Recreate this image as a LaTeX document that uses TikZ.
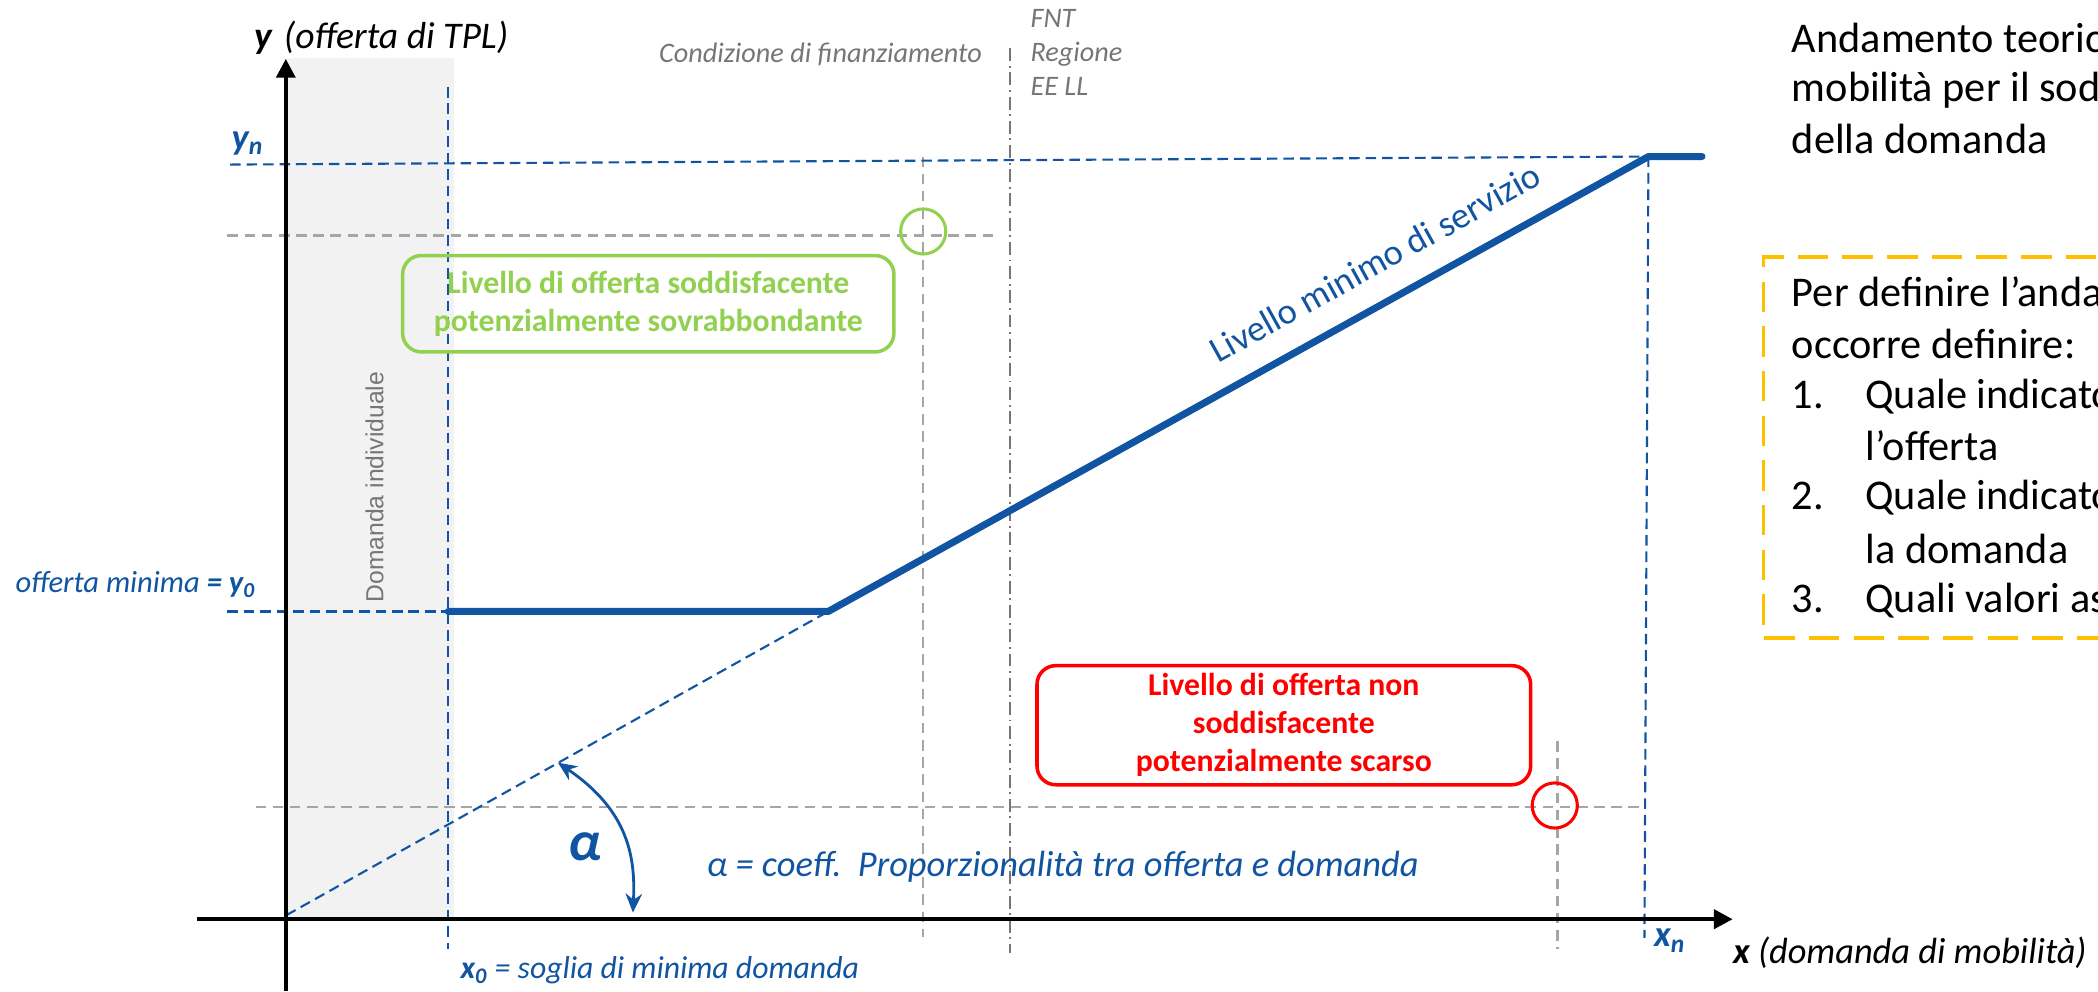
\documentclass[tikz,border=0pt]{standalone}
\usepackage{fontspec}
\setmainfont{Carlito}
\newfontfamily\arialfont{Liberation Sans}
\usetikzlibrary{arrows.meta}
\definecolor{tplblue}{RGB}{16,84,162}
\definecolor{okgreen}{RGB}{146,208,80}
\definecolor{lowred}{RGB}{255,0,0}
\definecolor{noteyellow}{RGB}{255,192,0}
\definecolor{bandgray}{RGB}{242,242,242}
\definecolor{guidegray}{RGB}{166,166,166}
\definecolor{notegray}{RGB}{118,118,118}

\begin{document}
\begin{tikzpicture}[x=0.02cm,y=0.02cm,
  axisline/.style={line width=1.8pt,-{Triangle[length=8pt,width=8pt]}},
  bluedash/.style={draw=tplblue,line width=0.9pt,dash pattern=on 4.5pt off 2.5pt},
  graydash/.style={draw=guidegray,line width=0.9pt,dash pattern=on 4.5pt off 2.8pt},
  dashdotgray/.style={draw=notegray,line width=0.8pt,dash pattern=on 5.5pt off 2pt on 0.8pt off 2pt},
  levelcurve/.style={draw=tplblue,line width=3pt,line cap=round,line join=round},
  levelbox/.style={rounded corners=8pt,line width=1.5pt,align=center,
    font=\bfseries\fontsize{13.5}{16.2}\selectfont},
  bluelabel/.style={text=tplblue,font=\itshape\fontsize{13.5}{16}\selectfont},
  notetext/.style={anchor=base west,font=\fontsize{18}{21.6}\selectfont}]
\useasboundingbox (0,0) rectangle (1568,741);
\clip (0,0) rectangle (1568,741);

% banda della domanda individuale
\fill[bandgray] (213,54) rectangle (339,698);
\node[rotate=90,text=notegray,font=\arialfont\fontsize{10.5}{12}\selectfont] (band) at (280,377) {Domanda individuale};

% linee guida
\draw[graydash] (170,565) -- (743,565);
\draw[graydash] (690,624) -- (690,41);
\draw[graydash] (191,138) -- (1229,138);
\draw[graydash] (1164,187) -- (1164,32);
\draw[dashdotgray] (755,705) -- (755,29);

\coordinate (O) at (214,57);
\coordinate (y0) at (335,284);
\coordinate (knee) at (619,284);
\coordinate (top) at (1232,624);
\coordinate (tail) at (1272,624);

\draw[bluedash] (172,618) -- (top);
\draw[bluedash] (170,284) -- (y0);
\draw[bluedash] (335,676) -- (335,32);
\draw[bluedash] (top) -- (1229,40);
\draw[bluedash] (O) -- (knee);

% assi
\draw[axisline] (213.6,0) -- (213.6,697);
\draw[axisline] (147,54) -- (1295,54);

% livello minimo
\draw[levelcurve] (y0) -- (knee) -- (top) -- (tail);
\path (knee) -- (top) node[pos=0.69,sloped,above=8pt,text=tplblue,font=\fontsize{15.5}{18}\selectfont] (minlabel) {Livello minimo di servizio};

% cerchi
\draw[okgreen,line width=1.3pt] (690,568) circle[radius=9.6pt];
\draw[lowred,line width=1.3pt] (1162,139) circle[radius=9.6pt];

% riquadri
\node[levelbox,draw=okgreen,text=okgreen,minimum width=209pt,minimum height=41pt] (okbox) at (484.5,514) {Livello di offerta soddisfacente\\potenzialmente sovrabbondante};
\node[levelbox,draw=lowred,text=lowred,minimum width=210pt,minimum height=49pt] (lowbox) at (959.5,199) {Livello di offerta non\\soddisfacente\\potenzialmente scarso};

% angolo alpha
\coordinate (alphaTop) at (417,171);
\coordinate (alphaBot) at (473,59);
\draw[tplblue,line width=1.2pt,{Stealth[length=8pt,width=7pt]}-{Stealth[length=8pt,width=7pt]}] (alphaTop) .. controls (470,135) and (475,100) .. (alphaBot);
\node[text=tplblue,font=\bfseries\itshape\fontsize{24}{28}\selectfont] (alpha) at (437,108) {α};

% etichette
\node[anchor=west,font=\itshape\fontsize{16}{19}\selectfont] (ytitle) at (184,713) {\textbf{y}\hspace{5pt}(offerta di TPL)};
\node[anchor=west,font=\itshape\fontsize{15.5}{18}\selectfont] (xtitle) at (1289,29) {\textbf{x} (domanda di mobilità)};
\node[bluelabel,font=\bfseries\itshape\fontsize{15.5}{18}\selectfont] (yn) at (185,634) {y\textsubscript{n}};
\node[bluelabel,font=\bfseries\itshape\fontsize{15.5}{18}\selectfont] (xn) at (1248,38) {x\textsubscript{n}};
\node[bluelabel,anchor=east,font=\itshape\fontsize{13}{16}\selectfont] (ymin) at (197,304) {offerta minima \textbf{= y\textsubscript{0}}};
\node[bluelabel,anchor=west] (x0) at (338,16) {\textbf{x\textsubscript{0}} = soglia di minima domanda};
\node[bluelabel,anchor=west,font=\itshape\fontsize{15.5}{18}\selectfont] (alphatext) at (522,93) {α = coeff.\ \ Proporzionalità tra offerta e domanda};

\node[anchor=east,text=notegray,font=\itshape\fontsize{12}{14.4}\selectfont] (cond) at (740,700) {Condizione di finanziamento};
\node[anchor=west,align=left,text=notegray,font=\itshape\fontsize{12}{14.4}\selectfont] (enti) at (764,702) {FNT\\Regione\\EE LL};

% testo a destra
\node[notetext] (head1) at (1333,702) {Andamento teorico};
\node[notetext] (head2) at (1333,665) {mobilità per il soddisfacimento};
\node[notetext] (head3) at (1333,626) {della domanda};

\draw[noteyellow,line width=1.5pt,dash pattern=on 13pt off 6pt] (1600,549) -- (1318,549) -- (1318,264) -- (1600,264);
\node[notetext] (def1) at (1333,512) {Per definire l’andamento};
\node[notetext] (def2) at (1333,473) {occorre definire:};
\node[notetext] (num1) at (1333,436) {1.};
\node[notetext] (item1) at (1388,436) {Quale indicatore};
\node[notetext] (item1b) at (1388,397) {l’offerta};
\node[notetext] (num2) at (1333,360) {2.};
\node[notetext] (item2) at (1388,360) {Quale indicatore};
\node[notetext] (item2b) at (1388,320) {la domanda};
\node[notetext] (num3) at (1333,283) {3.};
\node[notetext] (item3) at (1388,283) {Quali valori assumere};
\end{tikzpicture}
\end{document}
